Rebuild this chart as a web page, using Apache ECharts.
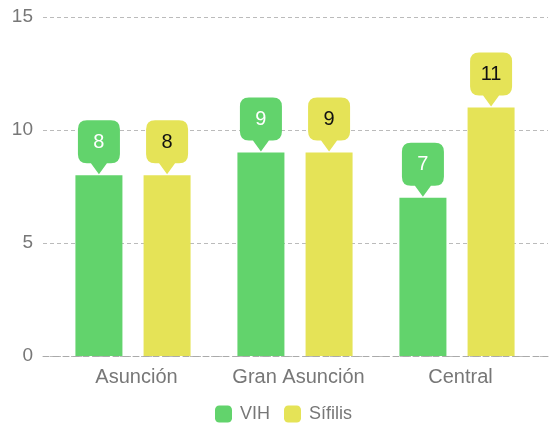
<!DOCTYPE html>
<html>
<head>
<meta charset="utf-8">
<script src="https://cdn.jsdelivr.net/npm/echarts@6/dist/echarts.min.js"></script>
<style>
  html, body { margin: 0; padding: 0; background: #fff; }
  #chart { width: 551px; height: 428px; }
</style>
</head>
<body>
<div id="chart"></div>
<script>
  var categories = ['Asunción', 'Gran Asunción', 'Central'];
  var vihValues = [8, 9, 7];
  var sifilisValues = [8, 9, 11];
  var yTicks = [0, 5, 10, 15];

  var green = '#62d36c';
  var yellow = '#e5e357';
  var font = '"Liberation Sans", Arial, sans-serif';

  // globo redondeado con puntita abajo
  var balloon = 'path://M9,0 L33,0 Q42,0 42,9 L42,34 Q42,43 33,43 L29,43 L21,54 L13,43 L9,43 Q0,43 0,34 L0,9 Q0,0 9,0 Z';

  function pins(values, color, textColor) {
    return {
      symbol: balloon,
      symbolSize: [42, 54],
      symbolOffset: [0, -28],
      itemStyle: { color: color },
      label: {
        show: true,
        offset: [0, -5],
        color: textColor,
        fontSize: 20,
        fontFamily: font
      },
      data: values.map(function (v, i) {
        return { coord: [i, v], value: v };
      })
    };
  }

  var chart = echarts.init(document.getElementById('chart'));

  var option = {
    animation: false,
    backgroundColor: '#fff',
    textStyle: { fontFamily: font },
    grid: [
      { left: 43, right: 3, top: 17, bottom: 72 },
      { left: 52, right: 13, top: 17, bottom: 72 }
    ],
    legend: {
      bottom: 0,
      left: 210,
      itemWidth: 17,
      itemHeight: 17,
      itemGap: 14,
      icon: 'roundRect',
      textStyle: { fontSize: 18, color: '#777', fontFamily: font, padding: [0, 0, 0, 3] },
      data: ['VIH', 'Sífilis']
    },
    xAxis: [
      {
        type: 'category',
        gridIndex: 0,
        data: categories,
        axisLabel: { show: false },
        axisTick: { show: false },
        axisLine: { show: true, lineStyle: { color: '#aaa', type: [6, 4], width: 1 } }
      },
      {
        type: 'category',
        gridIndex: 1,
        data: categories,
        axisLine: { show: false },
        axisTick: { show: false },
        axisLabel: {
          color: '#777', fontSize: 20, margin: 11, interval: 0, hideOverlap: false,
          padding: [0, 0, 0, 7], fontFamily: font
        }
      }
    ],
    yAxis: [
      {
        type: 'value',
        gridIndex: 0,
        min: yTicks[0],
        max: yTicks[yTicks.length - 1],
        interval: 5,
        axisLine: { show: false },
        axisTick: { show: false },
        axisLabel: { color: '#777', fontSize: 19, margin: 10, fontFamily: font },
        splitLine: { lineStyle: { color: '#bbb', type: [4, 3] } }
      },
      {
        type: 'value',
        gridIndex: 1,
        min: yTicks[0],
        max: yTicks[yTicks.length - 1],
        interval: 5,
        show: false,
        splitLine: { show: false }
      }
    ],
    series: [
      {
        name: 'VIH',
        type: 'bar',
        xAxisIndex: 1,
        yAxisIndex: 1,
        barWidth: 47,
        barGap: '45%',
        itemStyle: { color: green },
        data: vihValues,
        markPoint: pins(vihValues, green, '#fff')
      },
      {
        name: 'Sífilis',
        type: 'bar',
        xAxisIndex: 1,
        yAxisIndex: 1,
        barWidth: 47,
        barGap: '45%',
        itemStyle: { color: yellow },
        data: sifilisValues,
        markPoint: pins(sifilisValues, yellow, '#111')
      }
    ]
  };

  option && chart.setOption(option);
</script>
</body>
</html>
